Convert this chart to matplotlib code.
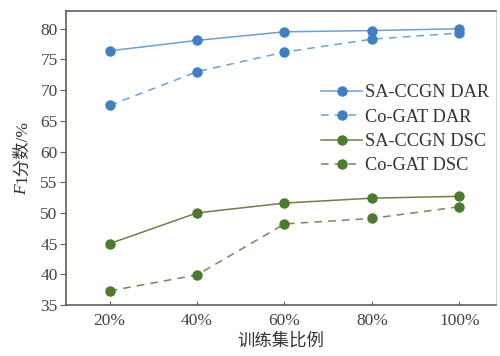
import matplotlib
matplotlib.use("Agg")
import matplotlib.pyplot as plt

categories = ["20%", "40%", "60%", "80%", "100%"]
sa_dar = [76.4, 78.1, 79.5, 79.7, 80.0]
co_dar = [67.5, 73.0, 76.2, 78.3, 79.3]
sa_dsc = [45.0, 50.0, 51.6, 52.4, 52.7]
co_dsc = [37.3, 39.9, 48.2, 49.1, 51.0]
yticks = [35, 40, 45, 50, 55, 60, 65, 70, 75, 80]

plt.rcParams['font.family'] = ['Liberation Serif', 'Noto Sans CJK SC']

fig = plt.figure(figsize=(5.0, 3.56), dpi=100)
ax = fig.add_axes([0.132, 0.1433, 0.860, 0.826])

x = list(range(len(categories)))
blue_line = '#6c9fd6'
blue_mk = '#3f80c4'
green_line = '#6e7f45'
green_mk = '#4b7a2f'
ms = 6.5
lw = 1.1

ax.plot(x, sa_dar, '-', color=blue_line, lw=lw, marker='o', ms=ms,
        mfc=blue_mk, mec=blue_mk, label='SA-CCGN DAR')
ax.plot(x, co_dar, '--', color=blue_line, lw=lw, marker='o', ms=ms,
        mfc=blue_mk, mec=blue_mk, label='Co-GAT DAR', dashes=(5, 4))
ax.plot(x, sa_dsc, '-', color=green_line, lw=lw, marker='o', ms=ms,
        mfc=green_mk, mec=green_mk, label='SA-CCGN DSC')
ax.plot(x, co_dsc, '--', color='#8a7d5a', lw=lw, marker='o', ms=ms,
        mfc=green_mk, mec=green_mk, label='Co-GAT DSC', dashes=(5, 4))

ax.set_xlim(-0.5, 4.42)
ax.set_ylim(35, 82.9)
ax.set_xticks(x)
ax.set_xticklabels(categories)
ax.set_yticks(yticks)

spine_c = '#6b5a55'
for s in ['left', 'bottom', 'top']:
    ax.spines[s].set_color(spine_c)
    ax.spines[s].set_linewidth(1.2)
ax.spines['right'].set_color('#d8d8d8')
ax.spines['right'].set_linewidth(0.8)

ax.tick_params(axis='y', direction='out', length=4, color=spine_c,
               labelsize=12.5, labelcolor='#444444', pad=2)
ax.tick_params(axis='x', direction='in', length=3, color=spine_c,
               labelsize=12.5, labelcolor='#444444', pad=6)

ax.set_xlabel('训练集比例', fontsize=12.5, color='#333333', labelpad=2,
              family=['Noto Sans CJK SC'])

# y label: italic F followed by "1分数/%"
ftxt = fig.text(22 / 500, 1 - 195 / 356, 'F', rotation=90, fontsize=12.5,
                style='italic', color='#333333', ha='center', va='bottom',
                family=['Liberation Serif'])
fig.canvas.draw()
bb = ftxt.get_window_extent(renderer=fig.canvas.get_renderer())
top_frac = (bb.y1 + 1) / fig.bbox.height
fig.text(22 / 500, top_frac, '1分数/%', rotation=90, fontsize=12.5,
         color='#333333', ha='center', va='bottom',
         family=['Liberation Serif', 'Noto Sans CJK SC'])

leg = ax.legend(loc='upper left', bbox_to_anchor=(0.577, 0.775), frameon=False,
                fontsize=13.2, handlelength=2.2, handletextpad=0.2,
                labelspacing=0.4, borderaxespad=0)
for t in leg.get_texts():
    t.set_color('#333333')

fig.savefig('out.png', dpi=100)
